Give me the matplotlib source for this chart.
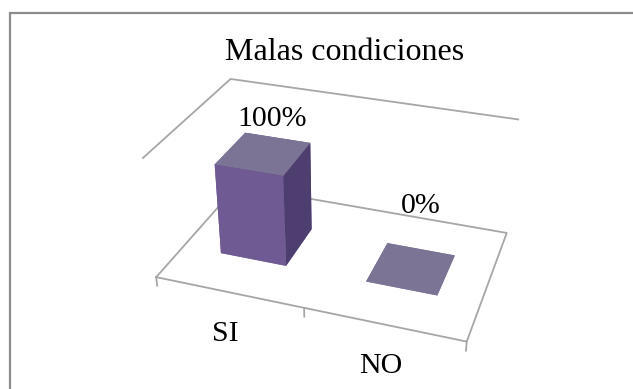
import matplotlib
matplotlib.use("Agg")
import matplotlib.pyplot as plt
import numpy as np
from matplotlib.patches import Rectangle
from mpl_toolkits.mplot3d import proj3d

# Data
categories = ["SI", "NO"]
values = [1.00, 0.00]          # share of answers (1.0 = 100 %)
value_labels = ["100%", "0%"]
title = "Malas condiciones"

# Style
serif = ["Liberation Serif", "DejaVu Serif"]
wall_color = "#a6a6a6"
face_top = "#7c7495"
face_front = "#6f5a94"
face_side = "#4e3e70"
face_back = "#5f4c80"
z_max = 1.29
bar_w = 0.46
bar_d = 0.38
label_lift = [34, 62]          # pixel lift of value labels above their anchor

W, H = 633, 389
fig = plt.figure(figsize=(W / 100, H / 100), dpi=100)
fig.patch.set_facecolor("white")

# Outer chart frame
fig.add_artist(Rectangle((10 / W, -0.05), 1.2, (H - 13) / H + 0.05,
                         transform=fig.transFigure, fill=False,
                         edgecolor="#8c8c8c", linewidth=1.6))

fig.text(345 / W, 1 - 52 / H, title, ha="center", va="center",
         fontsize=23, family=serif)

ax = fig.add_axes([0.126, 0.0286, 0.8, 0.9], projection="3d")
ax.computed_zorder = False
ax.set_proj_type("persp", focal_length=0.52)
ax.view_init(elev=30, azim=-71)
n = len(categories)
ax.set_xlim(0, n)
ax.set_ylim(0, 1)
ax.set_zlim(0, z_max)
ax.set_box_aspect((329, 205, 140), zoom=1.095)
ax.set_axis_off()

# Floor outline and the top edges of the left and back walls
lw = 1.3
ax.plot([0, n, n, 0, 0], [0, 0, 1, 1, 0], [0, 0, 0, 0, 0],
        color=wall_color, lw=lw, zorder=1, clip_on=False)
ax.plot([0, 0, n], [0, 1, 1], [z_max, z_max, z_max],
        color=wall_color, lw=lw, zorder=1, clip_on=False)
# Category tick marks along the front edge
for k in range(n + 1):
    ax.plot([k, k], [0, 0], [0, -0.1], color=wall_color, lw=lw, zorder=1,
            clip_on=False)

# Columns
for i, v in enumerate(values):
    x0 = i + 0.5 - bar_w / 2
    y0 = 0.5 - bar_d / 2
    colors = [face_top, face_top, face_front, face_back, face_front, face_side]
    coll = ax.bar3d(x0, y0, 0, bar_w, bar_d, v, color=colors, shade=False,
                    edgecolor="none", linewidth=0, zorder=2 + i)
    coll.set_clip_on(False)

# Value labels and category labels
M = ax.get_proj()
for i, (v, lab) in enumerate(zip(values, value_labels)):
    px, py, _ = proj3d.proj_transform(i + 0.5, 0.5, v, M)
    ax.annotate(lab, xy=(px, py), xytext=(9, label_lift[i]),
                textcoords="offset pixels", ha="center", va="center",
                fontsize=21.5, family=serif, zorder=5, annotation_clip=False)
for i, c in enumerate(categories):
    px, py, _ = proj3d.proj_transform(i + 0.5, 0, 0, M)
    ax.annotate(c, xy=(px, py), xytext=(-3, -42),
                textcoords="offset pixels", ha="center", va="center",
                fontsize=21.5, family=serif, zorder=5, annotation_clip=False)

fig.savefig("out.png", dpi=100)
